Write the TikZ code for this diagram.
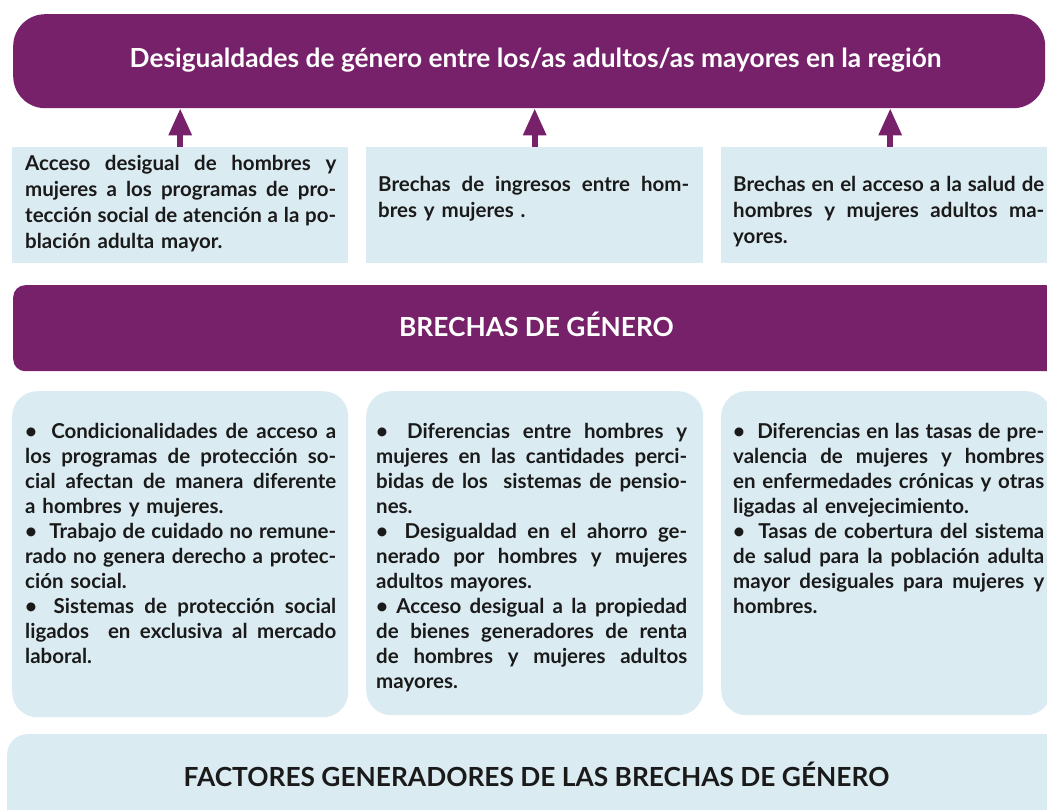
\documentclass[tikz,border=0pt]{standalone}
\usepackage{fontspec}
\setmainfont{Lato}[BoldFont={* Bold}]
\usetikzlibrary{arrows.meta}
\definecolor{pur}{RGB}{118,33,106}
\definecolor{lblue}{RGB}{219,235,242}
\definecolor{ink}{RGB}{26,26,26}
\newcommand{\jl}[1]{{\spaceskip=0.2em plus 1fil minus 0.08em\relax\makebox[311pt][s]{#1}}}
\newcommand{\bul}{•\hspace{0.5em plus 1fil}}
\begin{document}
\begin{tikzpicture}[x=1pt,y=-1pt,
  purbox/.style={fill=pur, draw=none, inner sep=0pt, anchor=north west},
  flatbox/.style={fill=lblue, draw=none, inner sep=0pt, anchor=north west},
  roundbox/.style={fill=lblue, draw=none, inner sep=0pt, anchor=north west, rounded corners=25pt},
  headtext/.style={text=white, font=\bfseries\fontsize{26.3}{30}\selectfont, anchor=base, inner sep=0pt},
  bodytext/.style={text=ink, font=\bfseries\fontsize{20.5}{26}\selectfont, anchor=north west, inner sep=0pt, align=left, text width=311pt},
  bodytextb/.style={bodytext, font=\bfseries\fontsize{20.5}{25}\selectfont},
  uparrow/.style={draw=pur, line width=6pt, -{Triangle[width=22pt,length=27pt]}}
]
\useasboundingbox (0,0) rectangle (1047,810);
\clip (0,0) rectangle (1047,810);

% top title box
\node[purbox, rounded corners=32pt, minimum width=1032pt, minimum height=94pt] (top) at (13,14) {};
\node[headtext] (toptext) at (535.5,68) {Desigualdades de género entre los/as adultos/as mayores en la región};

% row 2 flat boxes
\node[flatbox, minimum width=336pt, minimum height=116pt] (g1) at (12,147) {};
\node[flatbox, minimum width=337pt, minimum height=116pt] (g2) at (366,147) {};
\node[flatbox, minimum width=340pt, minimum height=116pt] (g3) at (721,147) {};

\node[bodytext] (g1t) at (25,155.5) {\jl{Acceso desigual de hombres y}\\
\jl{mujeres a los programas de pro-}\\
\jl{tección social de atención a la po-}\\
blación adulta mayor.};
\node[bodytext] (g2t) at (378,176.5) {\jl{Brechas de ingresos entre hom-}\\
bres y mujeres .};
\node[bodytext] (g3t) at (733,176.5) {\jl{Brechas en el acceso a la salud de}\\
\jl{hombres y mujeres adultos ma-}\\
yores.};

% arrows
\draw[uparrow] (g1.north) -- (g1.north |- top.south);
\draw[uparrow] (g2.north) -- (g2.north |- top.south);
\draw[uparrow] ([xshift=-1pt]g3.north) -- ([xshift=-1pt]g3.north |- top.south);

% second purple band
\node[purbox, rounded corners=12pt, minimum width=1045pt, minimum height=86pt] (mid) at (13,285) {};
\node[headtext] (midtext) at (536.5,337) {BRECHAS DE GÉNERO};

% row 3 rounded boxes
\node[roundbox, minimum width=336pt, minimum height=326pt] (f1) at (12,391) {};
\node[roundbox, minimum width=337pt, minimum height=324pt] (f2) at (366,391) {};
\node[roundbox, minimum width=330pt, minimum height=324pt] (f3) at (721,391) {};

\node[bodytextb] (f1t) at (25,422.6) {\jl{\bul Condicionalidades de acceso a}\\
\jl{los programas de protección so-}\\
\jl{cial afectan de manera diferente}\\
a hombres y mujeres.\\
\jl{\bul Trabajo de cuidado no remune-}\\
\jl{rado no genera derecho a protec-}\\
ción social.\\
\jl{\bul Sistemas de protección social}\\
\jl{ligados \ en exclusiva al mercado}\\
laboral.};

\node[bodytextb] (f2t) at (376,422.6) {\jl{\bul Diferencias entre hombres y}\\
\jl{mujeres en las cantidades perci-}\\
\jl{bidas de los \ sistemas de pensio-}\\
nes.\\
\jl{\bul Desigualdad en el ahorro ge-}\\
\jl{nerado por hombres y mujeres}\\
adultos mayores.\\
\jl{• Acceso desigual a la propiedad}\\
\jl{de bienes generadores de renta}\\
\jl{de hombres y mujeres adultos}\\
mayores.};

\node[bodytextb] (f3t) at (733,422.6) {\jl{\bul Diferencias en las tasas de pre-}\\
\jl{valencia de mujeres y hombres}\\
\jl{en enfermedades crónicas y otras}\\
ligadas al envejecimiento.\\
\jl{\bul Tasas de cobertura del sistema}\\
\jl{de salud para la población adulta}\\
\jl{mayor desiguales para mujeres y}\\
hombres.};

% bottom band
\node[roundbox, rounded corners=20pt, minimum width=1060pt, minimum height=110pt] (bot) at (7,734) {};
\node[headtext, text=ink] (bottext) at (536.5,786) {FACTORES GENERADORES DE LAS BRECHAS DE GÉNERO};
\end{tikzpicture}
\end{document}
